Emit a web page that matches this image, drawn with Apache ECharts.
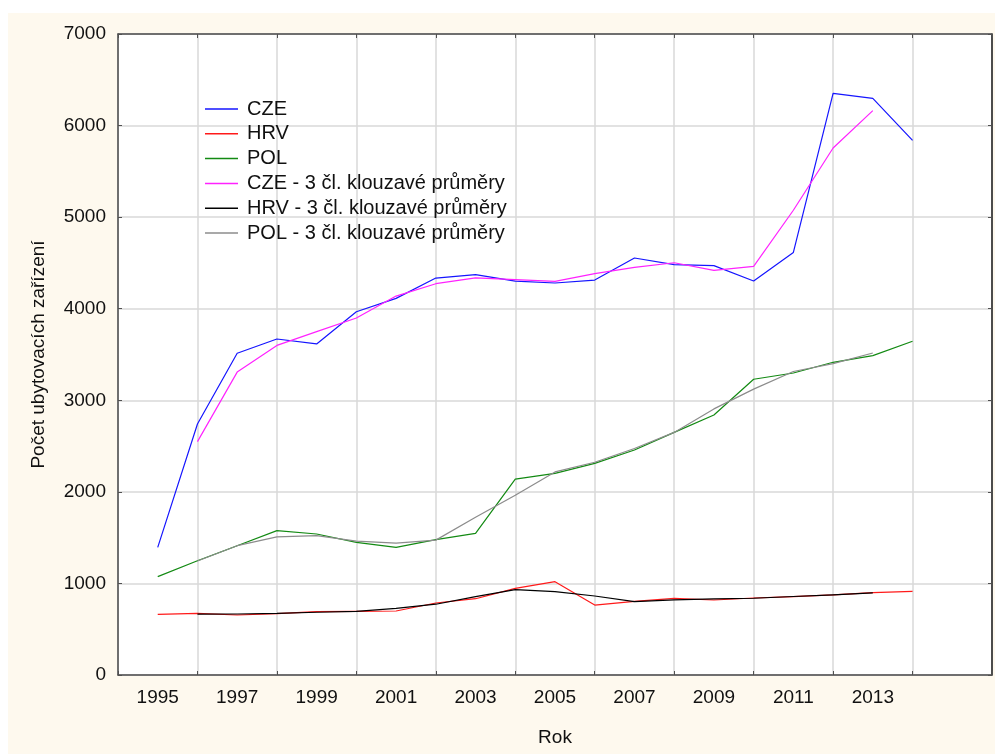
<!DOCTYPE html>
<html>
<head>
<meta charset="utf-8">
<script src="https://cdn.jsdelivr.net/npm/echarts@6/dist/echarts.min.js"></script>
<style>
html,body{margin:0;padding:0;background:#ffffff;width:995px;height:754px;overflow:hidden;}
#panel{position:absolute;left:8px;top:13px;width:987px;height:741px;background:#fef9ee;}
#chart{position:absolute;left:0;top:0;width:995px;height:754px;}
</style>
</head>
<body>
<div id="panel"></div>
<div id="chart"></div>
<script>
// Years
const years = [1995,1996,1997,1998,1999,2000,2001,2002,2003,2004,2005,2006,2007,2008,2009,2010,2011,2012,2013,2014];
// Raw series
const cze = [1394,2741,3513,3669,3615,3967,4113,4335,4372,4302,4281,4313,4554,4481,4470,4302,4615,6352,6297,5839];
const hrv = [663,673,655,670,691,695,699,786,833,946,1019,764,805,837,819,841,855,874,899,914];
const pol = [1074,1248,1412,1576,1540,1449,1394,1478,1547,2140,2202,2311,2457,2650,2839,3230,3298,3415,3488,3645];
// 3-term moving averages (1996–2013)
const maYears = [1996,1997,1998,1999,2000,2001,2002,2003,2004,2005,2006,2007,2008,2009,2010,2011,2012,2013];
const czeMA = [2549,3308,3599,3750,3898,4138,4273,4336,4318,4299,4383,4452,4502,4418,4462,5075,5755,6163];
const hrvMA = [664,666,672,685,695,727,773,855,933,910,863,802,820,832,838,857,876,896];
const polMA = [1245,1412,1509,1522,1461,1440,1473,1722,1963,2218,2323,2473,2649,2906,3122,3314,3400,3516];

const seriesNames = ['CZE','HRV','POL','CZE - 3 čl. klouzavé průměry','HRV - 3 čl. klouzavé průměry','POL - 3 čl. klouzavé průměry'];
const seriesColors = ['#1515ff','#ff1a1a','#138a13','#ff22ff','#000000','#8c8c8c'];
const yTicks = [0,1000,2000,3000,4000,5000,6000,7000];

const FONT = '"Liberation Sans", Arial, sans-serif';
const pair = (xs, vs) => xs.map((x, i) => [x, vs[i]]);
const dataSets = [pair(years, cze), pair(years, hrv), pair(years, pol), pair(maYears, czeMA), pair(maYears, hrvMA), pair(maYears, polMA)];

const chart = echarts.init(document.getElementById('chart'), null, {renderer: 'canvas'});
const frameColor = '#505050';
const gridColor = '#d9d9d9';

chart.setOption({
  backgroundColor: 'transparent',
  animation: false,
  textStyle: {fontFamily: FONT},
  grid: {left: 118, top: 34, right: 1, bottom: 79, show: true, backgroundColor: '#ffffff', borderColor: frameColor, borderWidth: 1},
  legend: {
    orient: 'vertical', left: 200, top: 94,
    icon: 'rect', itemWidth: 33, itemHeight: 1.5, itemGap: 4.8,
    textStyle: {fontSize: 20, color: '#111', fontFamily: FONT, lineHeight: 20, padding: [0, 0, 0, 4]},
    data: seriesNames
  },
  xAxis: [
    {type: 'value', position: 'bottom', min: 1994, max: 2016, interval: 2,
      axisLine: {show: true, lineStyle: {color: frameColor, width: 1.5}},
      axisTick: {show: true, inside: true, length: 4, lineStyle: {color: frameColor}},
      splitLine: {show: true, lineStyle: {color: gridColor, width: 1.5}},
      axisLabel: {show: false}},
    {type: 'value', position: 'bottom', min: 1994, max: 2016, interval: 1,
      axisLine: {show: false}, axisTick: {show: false}, splitLine: {show: false},
      axisLabel: {show: true, color: '#111', fontSize: 19, fontFamily: FONT, margin: 13,
        formatter: v => (v % 2 === 1 && v <= 2013) ? String(v) : ''},
      name: 'Rok', nameLocation: 'middle', nameGap: 53,
      nameTextStyle: {fontSize: 19, color: '#111', fontFamily: FONT}},
    {type: 'value', position: 'top', min: 1994, max: 2016, interval: 2,
      axisLine: {show: true, lineStyle: {color: frameColor, width: 1.5}},
      axisTick: {show: true, inside: true, length: 4, lineStyle: {color: frameColor}},
      splitLine: {show: false}, axisLabel: {show: false}}
  ],
  yAxis: [
    {type: 'value', position: 'left', min: yTicks[0], max: yTicks[yTicks.length - 1], interval: 1000,
      axisLine: {show: true, lineStyle: {color: frameColor, width: 1.5}},
      axisTick: {show: true, inside: true, length: 4, lineStyle: {color: frameColor}},
      splitLine: {show: true, lineStyle: {color: gridColor, width: 1.5}},
      axisLabel: {color: '#111', fontSize: 19, fontFamily: FONT, margin: 12, formatter: v => String(v)},
      name: 'Počet ubytovacích zařízení', nameLocation: 'middle', nameGap: 70,
      nameTextStyle: {fontSize: 19, color: '#111', fontFamily: FONT}},
    {type: 'value', position: 'right', min: 0, max: 7000, interval: 1000,
      axisLine: {show: true, lineStyle: {color: '#222', width: 1.5}},
      axisTick: {show: true, inside: true, length: 4, lineStyle: {color: frameColor}},
      splitLine: {show: false}, axisLabel: {show: false}}
  ],
  series: seriesNames.map((name, i) => ({
    name: name, type: 'line', xAxisIndex: 0, yAxisIndex: 0,
    data: dataSets[i], symbol: 'none', showSymbol: false,
    lineStyle: {color: seriesColors[i], width: 1.2},
    itemStyle: {color: seriesColors[i]},
    z: i < 3 ? 3 : 4
  }))
});
</script>
</body>
</html>
